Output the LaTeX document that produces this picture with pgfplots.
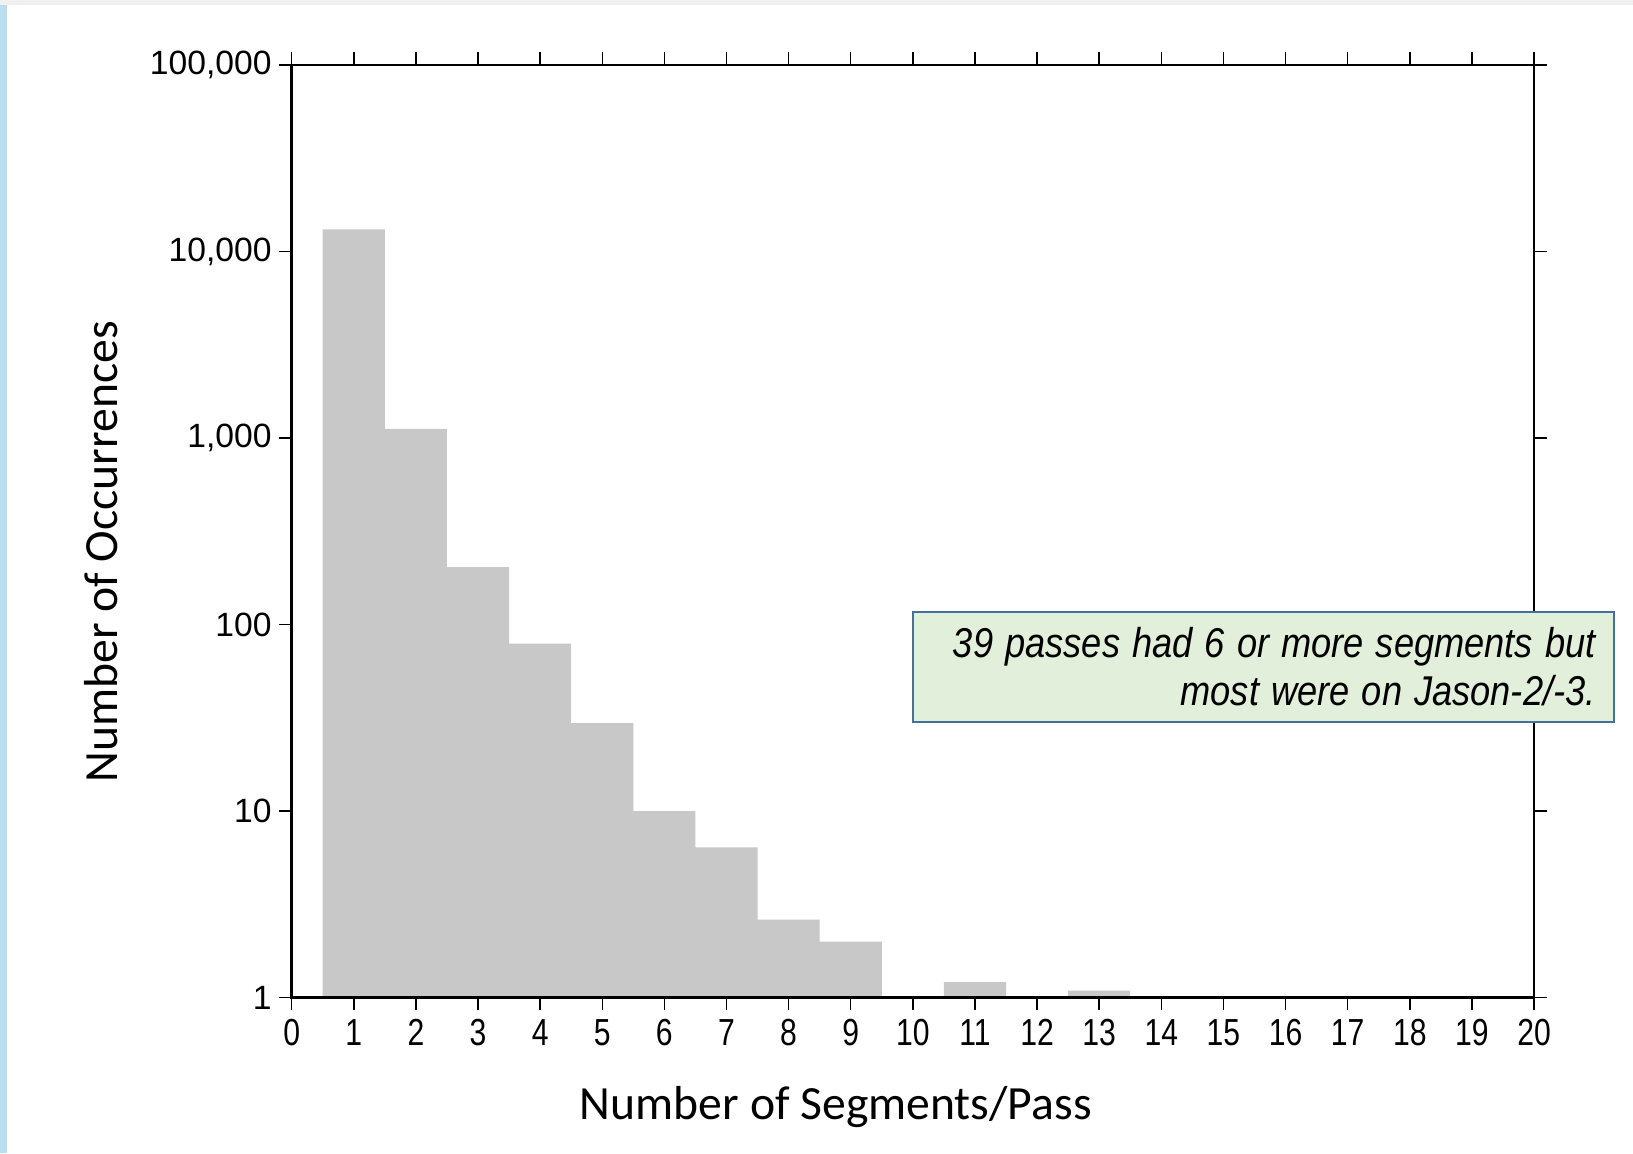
\documentclass[border=0pt]{standalone}
\usepackage{pgfplots}
\pgfplotsset{compat=1.18}
\usepackage{fontspec}
\setmainfont{Liberation Sans}
\newfontfamily\carlito{Carlito}
\definecolor{barcol}{RGB}{200,200,200}
\definecolor{boxfill}{RGB}{226,239,218}
\definecolor{boxdraw}{RGB}{65,113,156}
\definecolor{edgeblue}{RGB}{185,222,238}
\begin{document}
\begin{tikzpicture}
\path[use as bounding box, fill=white] (0,0) rectangle (489.9pt,345.9pt);
\fill[edgeblue] (0,0) rectangle (2.1pt,345.9pt);
\fill[black!6] (0,344.4pt) rectangle (489.9pt,345.9pt);
\begin{axis}[
  at={(87.5pt,46.6pt)}, anchor=south west,
  scale only axis, width=372.7pt, height=279.8pt,
  xmin=0, xmax=20, ymin=1, ymax=100000, ymode=log,
  xtick={0,...,20}, ytick={1,10,100,1000,10000,100000},
  yticklabels={1,10,100,{1,000},{10,000},{100,000}},
  yminorticks=false,
  axis on top,
  tick align=outside, major tick length=3.8pt,
  tick style={line width=0.45pt, black},
  axis line style={line width=0.8pt},
  xticklabel={\scalebox{0.8}[1]{\pgfmathprintnumber[assume math mode=true]{\tick}}},
  xticklabel style={font=\fontsize{11.3}{13}\selectfont, yshift=0.9pt},
  yticklabel style={font=\fontsize{10.1}{12}\selectfont, xshift=1.3pt},
  xlabel={Number of Segments/Pass}, ylabel={Number of Occurrences},
  label style={font=\carlito\fontsize{14.3}{17}\selectfont},
  xlabel style={at={(axis description cs:0.438,-0.117)}, anchor=center},
  ylabel style={at={(axis description cs:-0.1535,0.478)}, anchor=center},
]
\addplot[ybar, bar width=1, fill=barcol, draw=none] coordinates {
  (1,13150) (2,1120) (3,203) (4,79) (5,29.6) (6,10) (7,6.4) (8,2.62) (9,2.0) (11,1.21) (13,1.09)};
\coordinate (annot) at (rel axis cs:1.0652,0.355);
\end{axis}
\node[draw=boxdraw, line width=0.6pt, fill=boxfill, anchor=east,
  minimum width=210.3pt, minimum height=33pt, inner xsep=5.5pt,
  text width=199.3pt, align=right,
  font=\itshape\fontsize{12.5}{14.4}\selectfont] at (annot)
  {\scalebox{0.87}[1]{39 passes had 6 or more segments but}\\
   \scalebox{0.87}[1]{most were on Jason-2/-3.}};
\end{tikzpicture}
\end{document}
